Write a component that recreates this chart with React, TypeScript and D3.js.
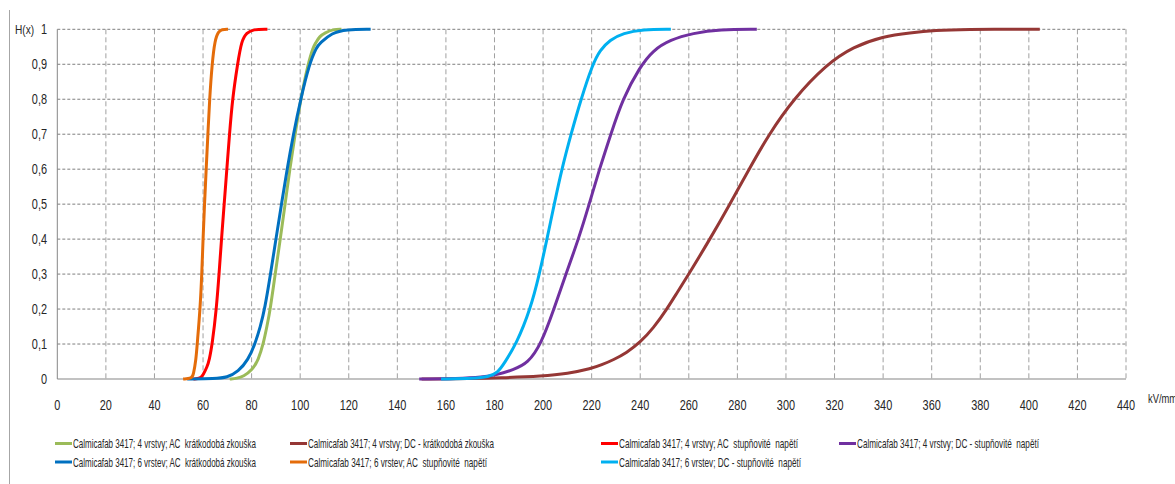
import React from "react";
import * as d3 from "d3";

// Empirical distribution functions H(x) of breakdown strength, [kV/mm, H]
const ac4Short: [number, number][] = [
  [71, 0], [74, 0.002], [76.6, 0.007], [80.3, 0.026], [82.8, 0.055], [84.8, 0.1],
  [86.3, 0.15], [87.7, 0.2], [89.7, 0.3], [91.8, 0.4], [93.8, 0.5], [95.7, 0.6],
  [97.9, 0.7], [100.2, 0.8], [103.2, 0.9], [105.4, 0.95], [106.3, 0.96], [108, 0.98],
  [110.2, 0.99], [113.5, 1], [117, 1],
];
const dc4Short: [number, number][] = [
  [150, 0], [170, 0.001], [182, 0.003], [200, 0.008], [210, 0.015], [220, 0.03],
  [224, 0.04], [229, 0.055], [234.4, 0.075], [240, 0.105], [245.4, 0.145], [251, 0.2],
  [255, 0.245], [260, 0.3], [268.7, 0.4], [276.9, 0.5], [284.8, 0.6], [293, 0.7],
  [303, 0.8], [316.7, 0.9], [327.7, 0.95], [340, 0.98], [351, 0.99], [362, 0.997],
  [372, 1], [404.5, 1],
];
const ac4Step: [number, number][] = [
  [56, 0], [59, 0.002], [60, 0.011], [61.7, 0.035], [62.6, 0.055], [63.8, 0.1],
  [65.5, 0.2], [66.6, 0.3], [67.6, 0.4], [68.7, 0.5], [69.8, 0.6], [70.9, 0.7],
  [72.1, 0.8], [74.2, 0.9], [75.9, 0.969], [78, 0.99], [80.6, 1], [86.5, 1],
];
const dc4Step: [number, number][] = [
  [149, 0], [165, 0.001], [175, 0.005], [181, 0.012], [187.6, 0.026], [193.8, 0.045],
  [199.2, 0.1], [204.5, 0.2], [209.4, 0.3], [214.6, 0.4], [219, 0.5], [223.2, 0.6],
  [227.9, 0.7], [232.7, 0.8], [239.9, 0.893], [245.3, 0.94], [252.3, 0.97],
  [261.7, 0.989], [272.8, 1], [288, 1],
];
const ac6Short: [number, number][] = [
  [53.5, 0], [65, 0.001], [69.9, 0.004], [74.5, 0.021], [78.6, 0.055], [81.4, 0.1],
  [83.6, 0.15], [85.4, 0.2], [87.8, 0.3], [90, 0.4], [92.3, 0.5], [94.6, 0.6],
  [97.2, 0.7], [100.2, 0.8], [103.7, 0.9], [106.8, 0.95], [108.1, 0.96],
  [113, 0.99], [119, 1], [129, 1],
];
const ac6Step: [number, number][] = [
  [51.8, 0], [55.4, 0.002], [56, 0.011], [57.1, 0.055], [57.6, 0.1], [58.8, 0.2],
  [59.5, 0.3], [60, 0.4], [60.6, 0.5], [61.3, 0.6], [62, 0.7], [62.7, 0.8], [63.7, 0.9],
  [64.9, 0.97], [66.3, 0.993], [67.7, 1], [70.3, 1],
];
const dc6Step: [number, number][] = [
  [158, 0], [172, 0.002], [177.3, 0.006], [181.4, 0.018], [184, 0.045], [189, 0.1],
  [194.8, 0.2], [198.5, 0.3], [201.6, 0.4], [204.6, 0.5], [207.7, 0.6], [211.5, 0.7],
  [215.6, 0.8], [220.4, 0.9], [223.4, 0.94], [227.5, 0.97], [233, 0.989], [241, 1],
  [252.6, 1],
];

const seriesLabels = [
  "Calmicafab 3417; 4 vrstvy; AC  krátkodobá zkouška",
  "Calmicafab 3417; 4 vrstvy; DC - krátkodobá zkouška",
  "Calmicafab 3417; 4 vrstvy; AC  stupňovité  napětí",
  "Calmicafab 3417; 4 vrstvy; DC - stupňovité  napětí",
  "Calmicafab 3417; 6 vrstev; AC  krátkodobá zkouška",
  "Calmicafab 3417; 6 vrstev; AC  stupňovité  napětí",
  "Calmicafab 3417; 6 vrstev; DC - stupňovité  napětí",
];
const seriesData = [ac4Short, dc4Short, ac4Step, dc4Step, ac6Short, ac6Step, dc6Step];
const seriesColors = ["#9BBB59", "#953735", "#FF0000", "#7030A0", "#0070C0", "#E46C0A", "#00B0F0"];

const xTicks = d3.range(0, 441, 20);
const yTicks = d3.range(0, 11).map((i) => i / 10);
const yTickLabels = yTicks.map((v) => (v === 0 ? "0" : v === 1 ? "1" : "0," + Math.round(v * 10)));
const yAxisTitle = "H(x)";
const xAxisUnit = "kV/mm";

// legend layout: [x of swatch, row]
const legendSlots: [number, number][] = [
  [55, 0], [290, 0], [601, 0], [839, 0], [55, 1], [290, 1], [601, 1],
];
const legendWidths = [183, 186, 179, 182, 183, 179, 182];

const W = 1175;
const H = 484;
const FONT = "'Liberation Sans', Arial, sans-serif";
const TEXT = "#262626";

export default function App() {
  const x = d3.scaleLinear().domain([0, 440]).range([57.3, 1126]);
  const y = d3.scaleLinear().domain([0, 1]).range([379, 29.3]);
  // B-spline through the sampled CDF points gives the smooth S-shape
  const line = d3
    .line<[number, number]>()
    .x((d) => x(d[0]))
    .y((d) => y(d[1]))
    .curve(d3.curveBasis);

  const sx = 0.78;
  const lsx = 0.7;

  return (
    <svg
      width={W}
      height={H}
      style={{ position: "absolute", left: 0, top: 0, display: "block", background: "#fff" }}
      fontFamily={FONT}
    >
      <rect x={0} y={0} width={W} height={H} fill="#fff" />
      {/* chart area border (left edge) */}
      <line x1={9.5} x2={9.5} y1={10} y2={H} stroke="#a6a6a6" strokeWidth={1} />

      {/* vertical grid */}
      {xTicks.filter((t) => t > 0).map((t) => (
        <line
          key={"gx" + t}
          x1={x(t)}
          x2={x(t)}
          y1={y(1)}
          y2={y(0)}
          stroke="#a0a0a0"
          strokeWidth={1}
          strokeDasharray="5,3"
        />
      ))}
      {/* horizontal grid */}
      {yTicks.filter((t) => t > 0).map((t) => (
        <line
          key={"gy" + t}
          x1={x(0)}
          x2={x(440)}
          y1={y(t)}
          y2={y(t)}
          stroke="#7f7f7f"
          strokeWidth={1}
          strokeDasharray="3,2"
        />
      ))}

      {/* axes */}
      <line x1={x(0)} x2={x(0)} y1={y(1)} y2={y(0)} stroke="#868686" strokeWidth={1} />
      <line x1={x(0)} x2={x(440)} y1={y(0)} y2={y(0)} stroke="#868686" strokeWidth={1.2} />

      {/* series */}
      {seriesData.map((d, i) => (
        <path
          key={"s" + i}
          d={line(d) || ""}
          fill="none"
          stroke={seriesColors[i]}
          strokeWidth={3}
          strokeLinejoin="round"
          strokeLinecap="butt"
        />
      ))}

      {/* x tick labels */}
      {xTicks.map((t) => (
        <text
          key={"tx" + t}
          transform={`translate(${x(t)},410) scale(${sx},1)`}
          textAnchor="middle"
          fontSize={14}
          fill={TEXT}
        >
          {t}
        </text>
      ))}
      <text transform={`translate(1148,403) scale(${sx},1)`} fontSize={12} fill={TEXT}>
        {xAxisUnit}
      </text>

      {/* y tick labels */}
      {yTicks.map((t, i) => (
        <text
          key={"ty" + t}
          transform={`translate(47,${y(t) + 5}) scale(${sx},1)`}
          textAnchor="end"
          fontSize={14}
          fill={TEXT}
        >
          {yTickLabels[i]}
        </text>
      ))}
      <text transform={`translate(15,${y(1) + 5}) scale(${sx},1)`} fontSize={13} fill={TEXT}>
        {yAxisTitle}
      </text>

      {/* legend */}
      {seriesLabels.map((label, i) => {
        const [lx, row] = legendSlots[i];
        const cy = row === 0 ? 443.5 : 462;
        return (
          <g key={"lg" + i}>
            <line x1={lx} x2={lx + 17} y1={cy} y2={cy} stroke={seriesColors[i]} strokeWidth={3} />
            <text
              transform={`translate(${lx + 18},${cy + 4.5}) scale(${lsx},1)`}
              fontSize={12.5}
              fill={TEXT}
              textLength={legendWidths[i] / lsx}
              lengthAdjust="spacingAndGlyphs"
              style={{ whiteSpace: "pre" }}
            >
              {label}
            </text>
          </g>
        );
      })}
    </svg>
  );
}
